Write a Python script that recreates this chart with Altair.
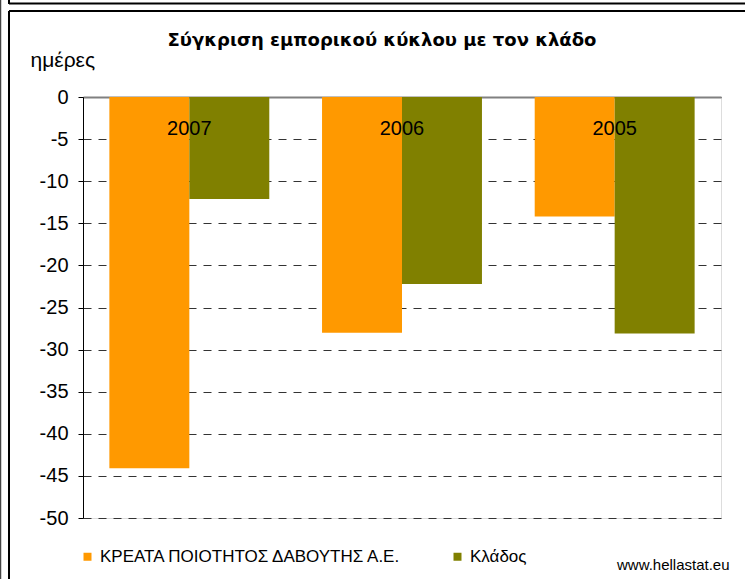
import altair as alt
import pandas as pd

years = ["2007", "2006", "2005"]
series_names = ["ΚΡΕΑΤΑ ΠΟΙΟΤΗΤΟΣ ΔΑΒΟΥΤΗΣ Α.Ε.", "Κλάδος"]
company_vals = [-44.1, -28.0, -14.2]
sector_vals = [-12.1, -22.2, -28.1]
colors = ["#FF9900", "#808000"]
y_ticks = [0, -5, -10, -15, -20, -25, -30, -35, -40, -45, -50]

title_text = "Σύγκριση εμπορικού κύκλου με τον κλάδο"
y_title = "ημέρες"
source_text = "www.hellastat.eu"

rows = []
for i, yr in enumerate(years):
    rows.append({"year": yr, "series": series_names[0], "value": company_vals[i]})
    rows.append({"year": yr, "series": series_names[1], "value": sector_vals[i]})
df = pd.DataFrame(rows)

FONT = "Liberation Sans"

x_enc = alt.X(
    "year:N",
    sort=years,
    scale=alt.Scale(paddingInner=0.248, paddingOuter=0.124),
    axis=alt.Axis(
        orient="top",
        title=None,
        labels=False,
        ticks=False,
        domainColor="#808080",
        domainWidth=2,
        grid=False,
    ),
)

bars = alt.Chart(df).mark_bar().encode(
    x=x_enc,
    xOffset=alt.XOffset("series:N", sort=series_names, scale=alt.Scale(paddingInner=0, paddingOuter=0)),
    y=alt.Y(
        "value:Q",
        scale=alt.Scale(domain=[-50, 0], nice=False, zero=False),
        axis=alt.Axis(
            values=y_ticks,
            labelExpr="'' + datum.value",
            title=y_title,
            titleAngle=0,
            titleAlign="left",
            titleBaseline="alphabetic",
            titleX=-53,
            titleY=-31,
            titleFont=FONT,
            titleFontSize=21,
            titleFontWeight="normal",
            titleColor="#000000",
            labelFont=FONT,
            labelFontSize=20,
            labelColor="#000000",
            labelPadding=10,
            tickSize=5,
            tickColor="#000000",
            domainColor="#000000",
            domainWidth=1,
            grid=True,
            gridColor="#333333",
            gridDash=[8, 7],
            gridWidth=1,
        ),
    ),
    color=alt.Color(
        "series:N",
        scale=alt.Scale(domain=series_names, range=colors),
        legend=alt.Legend(
            orient="none",
            legendX=-4,
            legendY=451,
            direction="horizontal",
            title=None,
            symbolType="square",
            symbolSize=64,
            symbolStrokeWidth=0,
            symbolOpacity=1,
            labelFont=FONT,
            labelFontSize=17,
            labelColor="#000000",
            labelLimit=500,
            labelOffset=4,
            columnPadding=47,
        ),
    ),
)

year_labels = alt.Chart(pd.DataFrame({"year": years})).mark_text(
    font=FONT, fontSize=20, color="#000000", baseline="alphabetic", align="center", dy=38
).encode(
    x=alt.X("year:N", sort=years),
    y=alt.datum(0),
    text="year:N",
)

title = alt.Chart(alt.Data(values=[{"t": title_text}])).mark_text(
    font="DejaVu Sans", fontWeight="bold", fontSize=18, color="#000000",
    align="center", baseline="alphabetic",
).encode(x=alt.value(299), y=alt.value(-51), text="t:N")

source = alt.Chart(alt.Data(values=[{"t": source_text}])).mark_text(
    font=FONT, fontSize=15, color="#000000", align="left", baseline="alphabetic",
).encode(x=alt.value(534), y=alt.value(473), text="t:N")

def rule(x, x2, y, y2, color="#000000", w=2):
    return alt.Chart(alt.Data(values=[{}])).mark_rule(color=color, strokeWidth=w).encode(
        x=alt.value(x), x2=alt.value(x2), y=alt.value(y), y2=alt.value(y2)
    )

frame = [
    rule(-82.5, -82.5, -97, 482, color="#444444", w=1.5),
    rule(-74, -74, -86, 482),
    rule(-74, 662, -86, -86),
    rule(-74, 662, -93.5, -93.5),
    rule(-74, -74, -97, -93),
]

chart = alt.layer(bars, year_labels, title, source, *frame).properties(
    width=638,
    height=421,
    autosize=alt.AutoSizeParams(type="none"),
    padding={"left": 83, "top": 97, "right": 24, "bottom": 61},
).configure_view(stroke=None).configure(background="#ffffff")

chart.save("out.html", embed_options={"renderer": "svg", "actions": False})
